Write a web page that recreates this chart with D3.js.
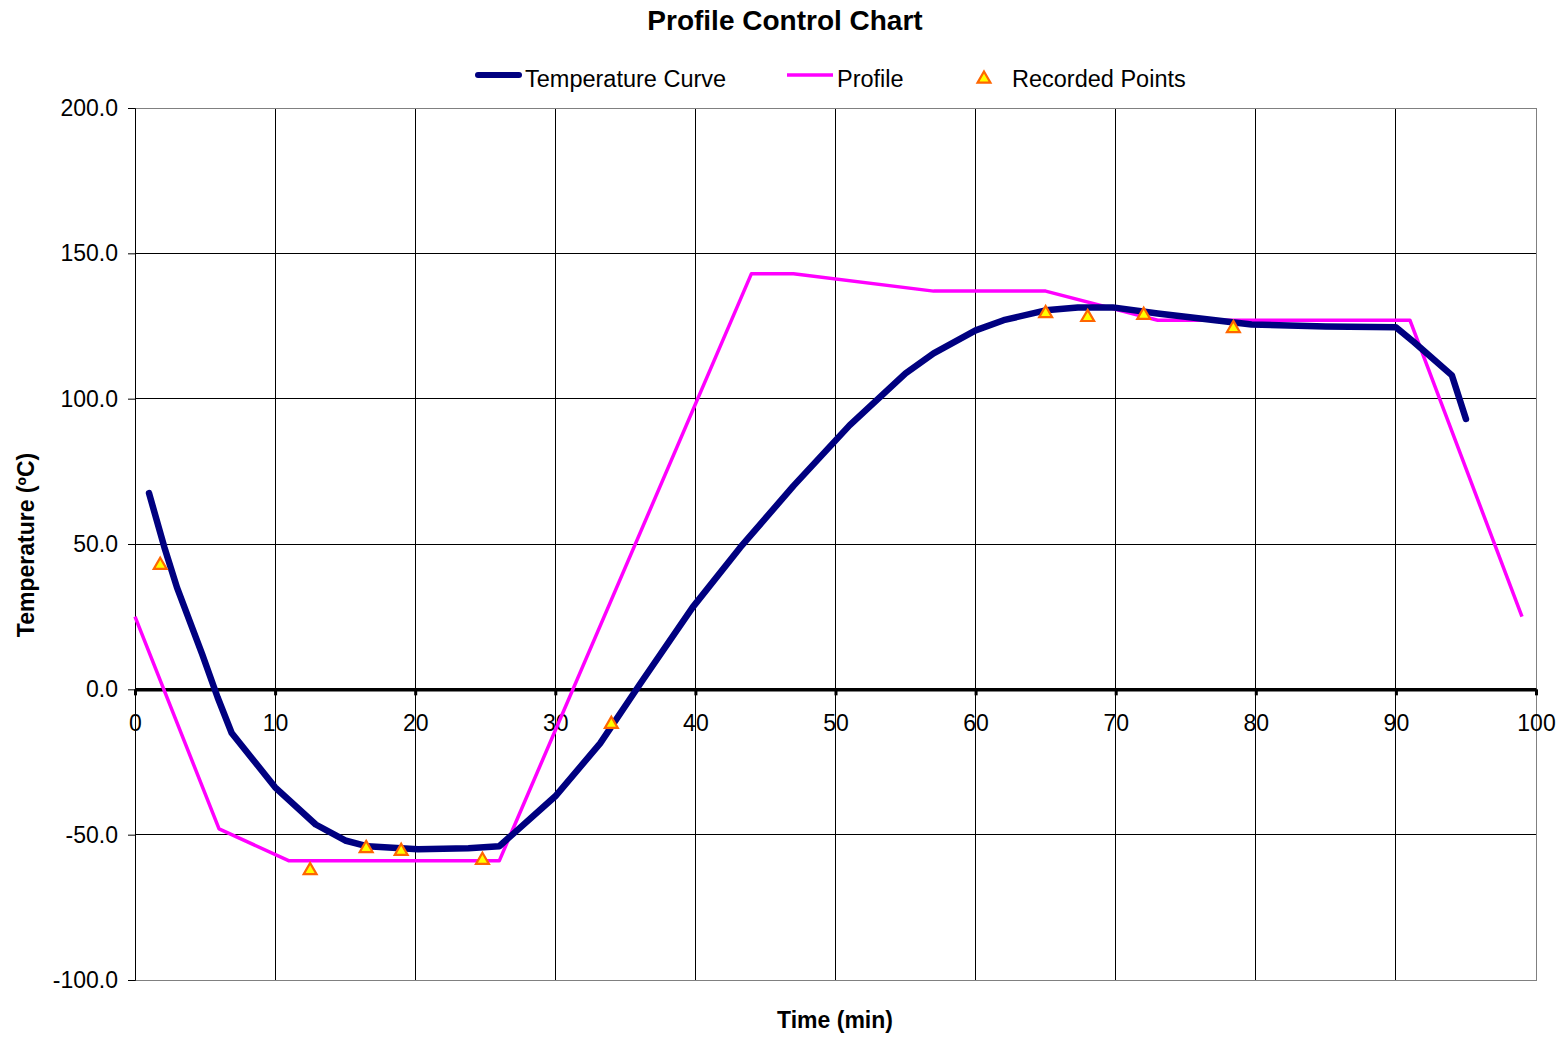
<!DOCTYPE html>
<html>
<head>
<meta charset="utf-8">
<script src="https://cdn.jsdelivr.net/npm/d3@7"></script>
<style>
  body { margin: 0; background: #ffffff; }
  text { font-family: Arial, "Liberation Sans", sans-serif; fill: #000; }
</style>
</head>
<body>
<div id="chart"></div>
<script>
// temperature curve (min, ºC)
const tempTime = [1, 2.1, 3, 4.8, 5.9, 6.9, 10, 12.9, 15, 16.6, 20.2, 23.8, 26, 30, 33.2, 36, 39.8, 43.2, 47, 51, 55, 57, 60, 62, 65, 67.3, 69.8, 73, 79.7, 85, 90, 91.3, 94, 95];
const tempValue = [67.5, 48.8, 35, 12, -2.8, -15, -33.7, -46.5, -52, -54, -55, -54.7, -54, -36.8, -18.6, 1.5, 28.2, 48.8, 70, 90.8, 108.7, 115.6, 123.5, 127, 130.4, 131.4, 131.4, 129.3, 125.5, 124.8, 124.6, 119.4, 108, 93];

// profile
const profileTime = [0, 6, 11, 26, 44, 47, 57, 65, 73, 91, 99];
const profileValue = [25, -48, -59, -59, 143, 143, 137, 137, 127, 127, 25];

// recorded points
const recTime = [1.8, 12.5, 16.5, 19, 24.8, 34, 65, 68, 72, 78.4];
const recValue = [42.7, -62.3, -54.7, -55.7, -58.8, -12, 129.3, 128, 128.7, 124.2];

const xTicks = [0, 10, 20, 30, 40, 50, 60, 70, 80, 90, 100];
const yTicks = [-100, -50, 0, 50, 100, 150, 200];

const width = 1560, height = 1037;
const plot = { left: 135, right: 1536, top: 108, bottom: 980 };

const svg = d3.select("#chart").append("svg")
    .attr("width", width)
    .attr("height", height);

const x = d3.scaleLinear().domain([0, 100]).range([plot.left, plot.right]);
const y = d3.scaleLinear().domain([-100, 200]).range([plot.bottom, plot.top]);

// plain hyphen for negatives, like the original
const yFormat = d => d.toFixed(1);

//gridlines
const grid = svg.append("g").attr("shape-rendering", "crispEdges");
grid.selectAll(".hgrid")
    .data(yTicks)
    .enter().append("line")
    .attr("x1", plot.left).attr("x2", plot.right)
    .attr("y1", d => y(d)).attr("y2", d => y(d))
    .style("stroke", "#000").style("stroke-width", 1);
grid.selectAll(".vgrid")
    .data(xTicks.slice(1, -1))
    .enter().append("line")
    .attr("x1", d => x(d)).attr("x2", d => x(d))
    .attr("y1", plot.top).attr("y2", plot.bottom)
    .style("stroke", "#000").style("stroke-width", 1);

//plot border
grid.append("rect")
    .attr("x", plot.left).attr("y", plot.top)
    .attr("width", plot.right - plot.left).attr("height", plot.bottom - plot.top)
    .style("fill", "none").style("stroke", "#808080").style("stroke-width", 1);

//y axis
const yAxis = svg.append("g")
    .attr("transform", `translate(${plot.left},0)`)
    .call(d3.axisLeft(y).tickValues(yTicks).tickFormat(yFormat).tickSize(7).tickPadding(10));
yAxis.select(".domain").attr("stroke", "#000");
yAxis.selectAll("text").style("font-size", "23px").attr("font-family", null);

//x axis on zero line
const xAxis = svg.append("g")
    .attr("transform", `translate(0,${y(0)})`)
    .call(d3.axisBottom(x).tickValues(xTicks).tickFormat(d => String(d)).tickSize(6).tickPadding(19).tickSizeOuter(0));
xAxis.select(".domain").attr("stroke-width", 3.5);
xAxis.selectAll(".tick line").attr("stroke-width", 3);
xAxis.selectAll("text").style("font-size", "23px").attr("font-family", null);

// lines
const line = d3.line()
    .x(d => x(d[0]))
    .y(d => y(d[1]));

svg.append("path")
    .datum(profileTime.map((t, i) => [t, profileValue[i]]))
    .attr("d", line)
    .style("fill", "none")
    .style("stroke", "#ff00ff")
    .style("stroke-width", 3.5)
    .style("stroke-linejoin", "round");

svg.append("path")
    .datum(tempTime.map((t, i) => [t, tempValue[i]]))
    .attr("d", line)
    .style("fill", "none")
    .style("stroke", "#000080")
    .style("stroke-width", 6.5)
    .style("stroke-linejoin", "round")
    .style("stroke-linecap", "round");

const tri = d3.symbol().type(d3.symbolTriangle).size(72);

svg.selectAll(".rec")
    .data(recTime.map((t, i) => [t, recValue[i]]))
    .enter().append("path")
    .attr("d", tri)
    .attr("transform", d => `translate(${x(d[0])},${y(d[1])})`)
    .style("fill", "#ffff00")
    .style("stroke", "#ff6600")
    .style("stroke-width", 2.2);

//title
svg.append("text")
    .attr("x", 785).attr("y", 30)
    .attr("text-anchor", "middle")
    .style("font-size", "28px").style("font-weight", "bold")
    .text("Profile Control Chart");

//legend
const legend = svg.append("g");
legend.append("line")
    .attr("x1", 478).attr("x2", 519).attr("y1", 75).attr("y2", 75)
    .style("stroke", "#000080").style("stroke-width", 6).style("stroke-linecap", "round");
legend.append("text").attr("x", 525).attr("y", 87).style("font-size", "23.5px").text("Temperature Curve");
legend.append("line")
    .attr("x1", 787).attr("x2", 833).attr("y1", 75).attr("y2", 75)
    .style("stroke", "#ff00ff").style("stroke-width", 3.5);
legend.append("text").attr("x", 837).attr("y", 87).style("font-size", "23.5px").text("Profile");
legend.append("path")
    .attr("d", tri)
    .attr("transform", "translate(984,79)")
    .style("fill", "#ffff00").style("stroke", "#ff6600").style("stroke-width", 2.2);
legend.append("text").attr("x", 1012).attr("y", 87).style("font-size", "23.5px").text("Recorded Points");

//axis titles
svg.append("text")
    .attr("x", 835).attr("y", 1028)
    .attr("text-anchor", "middle")
    .style("font-size", "23px").style("font-weight", "bold")
    .text("Time (min)");
svg.append("text")
    .attr("transform", "translate(34,545) rotate(-90)")
    .attr("text-anchor", "middle")
    .style("font-size", "23px").style("font-weight", "bold")
    .text("Temperature (ºC)");
</script>
</body>
</html>
